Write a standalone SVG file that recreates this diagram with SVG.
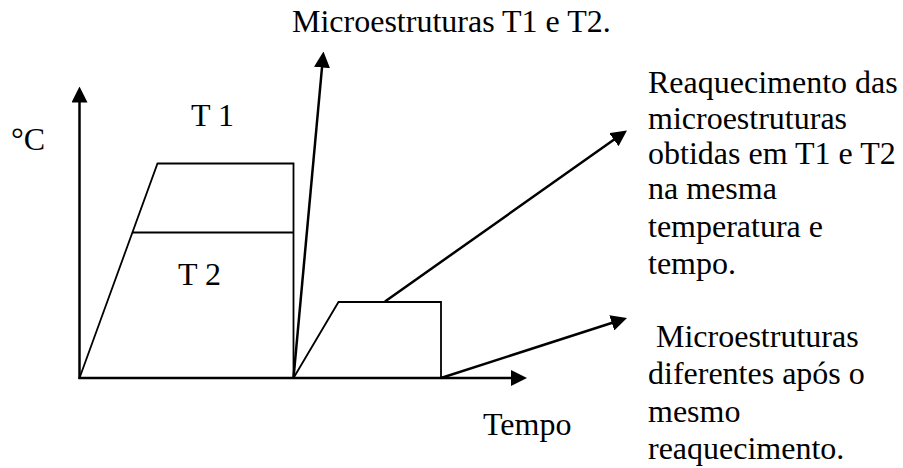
<svg xmlns="http://www.w3.org/2000/svg" width="903" height="468" viewBox="0 0 903 468">
<style>
  text { font-family: "Liberation Serif", "Times New Roman", serif; font-size: 32px; fill: #000; }
  .ax { stroke: #000; stroke-width: 2.5; fill: none; marker-end: url(#ah); }
  .ln { stroke: #000; stroke-width: 1.8; fill: none; stroke-linejoin: miter; }
</style>
<defs>
  <marker id="ah" viewBox="0 0 16 16" refX="12" refY="8" markerWidth="16" markerHeight="16" markerUnits="userSpaceOnUse" orient="auto">
    <path d="M0,0 L16,8 L0,16 z" fill="#000"/>
  </marker>
</defs>
<rect width="903" height="468" fill="#fff"/>

<g id="axis-label-temp"><text x="11" y="150">°C</text></g>
<g id="axis-label-time"><text x="483" y="435">Tempo</text></g>

<g id="cycle-t1">
  <polyline class="ln" points="79.5,378 157.5,163.5 293.5,163.5 293.5,378"/>
  <text x="191" y="126">T 1</text>
</g>
<g id="cycle-t2">
  <line class="ln" x1="132.4" y1="232.5" x2="293.5" y2="232.5"/>
  <text x="178" y="285">T 2</text>
</g>
<g id="reheat">
  <polyline class="ln" points="293.5,378 338.5,302 441,302 441,378"/>
</g>

<g id="connectors">
  <line class="ax" x1="79.5" y1="379" x2="79.5" y2="90.5"/>
  <line class="ax" x1="78.5" y1="378" x2="523" y2="378"/>
  <line class="ax" x1="293.5" y1="378" x2="323.1" y2="55.5"/>
  <line class="ax" x1="385" y1="301.5" x2="623.7" y2="132.8"/>
  <line class="ax" x1="441" y1="378" x2="623.2" y2="319.2"/>
</g>

<g id="label-top"><text x="292" y="32">Microestruturas T1 e T2.</text></g>
<g id="label-reheat">
  <text x="648" y="93">Reaquecimento das</text>
  <text x="648" y="128.5">microestruturas</text>
  <text x="648" y="163.5">obtidas em T1 e T2</text>
  <text x="648" y="199">na mesma</text>
  <text x="648" y="236.5">temperatura e</text>
  <text x="648" y="273.5">tempo.</text>
</g>
<g id="label-result">
  <text x="656" y="347">Microestruturas</text>
  <text x="648" y="384">diferentes após o</text>
  <text x="648" y="421.5">mesmo</text>
  <text x="648" y="458.5">reaquecimento.</text>
</g>
</svg>
